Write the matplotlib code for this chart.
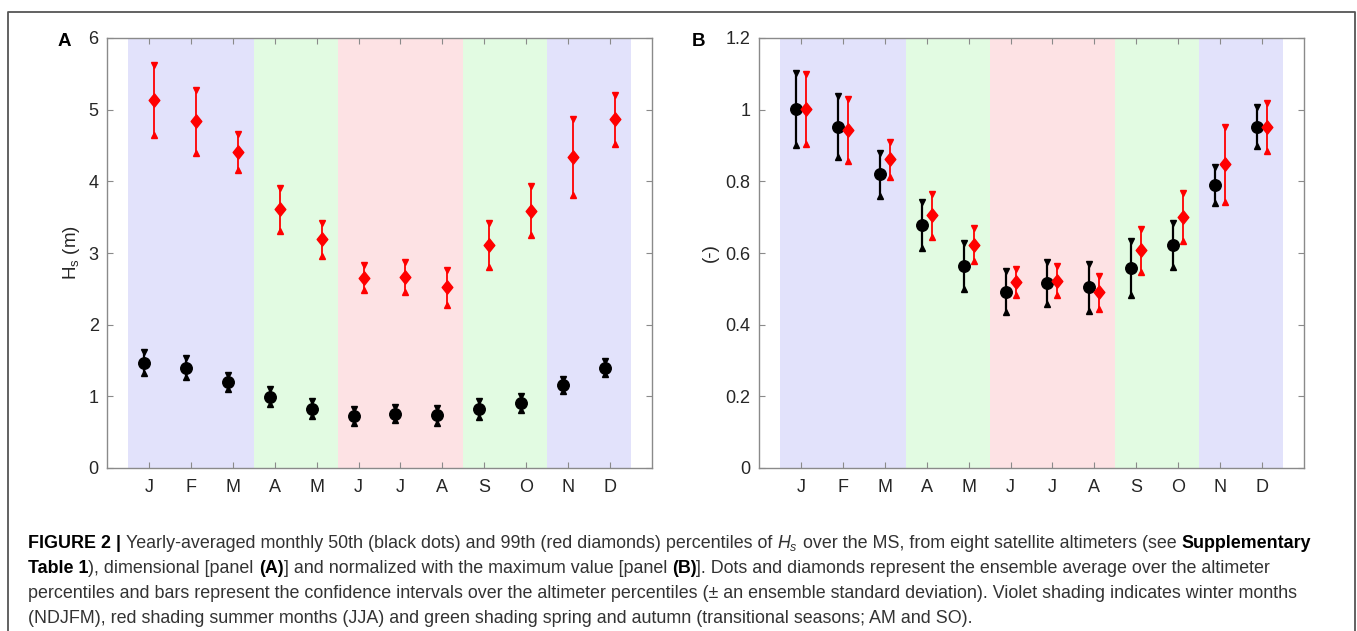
import matplotlib
matplotlib.use("Agg")
import matplotlib.pyplot as plt
from matplotlib.path import Path
import numpy as np

plt.rcParams['font.family'] = ['Liberation Sans', 'DejaVu Sans']
plt.rcParams['mathtext.fontset'] = 'custom'
plt.rcParams['mathtext.rm'] = 'Liberation Sans'
plt.rcParams['mathtext.it'] = 'Liberation Sans:italic'
plt.rcParams['mathtext.bf'] = 'Liberation Sans:bold'

months = ['J', 'F', 'M', 'A', 'M', 'J', 'J', 'A', 'S', 'O', 'N', 'D']

# Panel A: dimensional Hs (m)
a_p50 = [1.47, 1.40, 1.20, 0.995, 0.83, 0.725, 0.76, 0.735, 0.82, 0.91, 1.16, 1.40]
a_p50_err = [0.15, 0.13, 0.10, 0.105, 0.105, 0.095, 0.095, 0.105, 0.115, 0.10, 0.085, 0.09]
a_p99 = [5.13, 4.84, 4.41, 3.61, 3.19, 2.655, 2.67, 2.52, 3.11, 3.59, 4.34, 4.865]
a_p99_err = [0.49, 0.44, 0.25, 0.30, 0.235, 0.175, 0.21, 0.24, 0.31, 0.345, 0.53, 0.345]

# Panel B: normalized (-)
b_p50 = [1.002, 0.953, 0.82, 0.678, 0.563, 0.492, 0.517, 0.504, 0.558, 0.622, 0.79, 0.953]
b_p50_err = [0.10, 0.084, 0.06, 0.064, 0.064, 0.057, 0.058, 0.066, 0.076, 0.062, 0.05, 0.055]
b_p99 = [1.001, 0.944, 0.861, 0.706, 0.623, 0.519, 0.523, 0.491, 0.607, 0.701, 0.848, 0.951]
b_p99_err = [0.098, 0.086, 0.048, 0.06, 0.046, 0.036, 0.041, 0.046, 0.061, 0.067, 0.105, 0.067]

# Season shading spans (month index ranges)
season_spans = [(0.5, 3.5, 'winter'), (3.5, 5.5, 'trans'), (5.5, 8.5, 'summer'),
                (8.5, 10.5, 'trans'), (10.5, 12.5, 'winter')]
season_colors = {'winter': '#e2e2fb', 'trans': '#e2fbe2', 'summer': '#fde2e4'}

W, H = 1357, 631
fig = plt.figure(figsize=(W / 100, H / 100), dpi=100)

# outer frame
fig.add_artist(plt.Line2D([8 / W, 8 / W, 1355 / W, 1355 / W], [0, 1 - 12 / H, 1 - 12 / H, 0],
                          transform=fig.transFigure, color='#555555', lw=1.3))

diamond = Path([(0, 1), (0.8, 0), (0, -1), (-0.8, 0), (0, 1)],
               [Path.MOVETO, Path.LINETO, Path.LINETO, Path.LINETO, Path.CLOSEPOLY])

x = np.arange(1, 13)
spine_col = '#8a8a8a'
txt_col = '#262626'


def make_panel(left_px, p50, p50e, p99, p99e, ylim, yticks, yticklabels, ylabel, letter, letter_x):
    ax = fig.add_axes([left_px / W, (H - 468) / H, 545 / W, 430 / H])
    for a, b, s in season_spans:
        ax.axvspan(a, b, color=season_colors[s], lw=0, zorder=0)
    off = 0.12
    for xs, v, e, col, mk, ms, lw in [(x - off, p50, p50e, 'black', 'o', 8.3, 1.6),
                                     (x + off, p99, p99e, '#ff0000', diamond, 9.6, 1.3)]:
        v = np.array(v)
        e = np.array(e)
        ax.vlines(xs, v - e, v + e, color=col, lw=lw, zorder=3)
        ax.plot(xs, v + e, 'v', color=col, ms=4.3, zorder=3)
        ax.plot(xs, v - e, '^', color=col, ms=4.3, zorder=3)
        ax.plot(xs, v, ls='none', marker=mk, ms=ms, color=col, mec=col, zorder=4)
    ax.set_xlim(0, 13)
    ax.set_ylim(*ylim)
    ax.set_xticks(x)
    ax.set_xticklabels(months)
    ax.set_yticks(yticks)
    ax.set_yticklabels(yticklabels)
    ax.tick_params(direction='in', length=4.5, width=0.8, color=spine_col, labelcolor=txt_col,
                   labelsize=13, top=True, right=True, pad=6)
    ax.tick_params(axis='x', pad=8)
    for sp in ax.spines.values():
        sp.set_color(spine_col)
        sp.set_linewidth(1.0)
    ax.set_ylabel(ylabel, fontsize=13.5, color=txt_col, labelpad=5)
    fig.text(letter_x / W, 1 - 41 / H, letter, fontsize=13.5, fontweight='bold',
             ha='left', va='center', color='black')
    return ax


axA = make_panel(107, a_p50, a_p50_err, a_p99, a_p99_err, (0, 6), range(0, 7),
                 [str(i) for i in range(0, 7)], r'H$_\mathregular{s}$ (m)', 'A', 58)
axB = make_panel(759, b_p50, b_p50_err, b_p99, b_p99_err, (0, 1.2),
                 [0, 0.2, 0.4, 0.6, 0.8, 1.0, 1.2], ['0', '0.2', '0.4', '0.6', '0.8', '1', '1.2'],
                 '(-)', 'B', 692)

# caption
cap_lines = [
    [("FIGURE 2 | ", 'bold'),
     ("Yearly-averaged monthly 50th (black dots) and 99th (red diamonds) percentiles of ", 'normal'),
     ("$H_s$", 'normal'),
     (" over the MS, from eight satellite altimeters (see ", 'normal'),
     ("Supplementary", 'bold')],
    [("Table 1", 'bold'), ("), dimensional [panel ", 'normal'), ("(A)", 'bold'),
     ("] and normalized with the maximum value [panel ", 'normal'), ("(B)", 'bold'),
     ("]. Dots and diamonds represent the ensemble average over the altimeter", 'normal')],
    [("percentiles and bars represent the confidence intervals over the altimeter percentiles "
      "(\u00b1 an ensemble standard deviation). Violet shading indicates winter months", 'normal')],
    [("(NDJFM), red shading summer months (JJA) and green shading spring and autumn "
      "(transitional seasons; AM and SO).", 'normal')],
]
cap_x0 = 28
cap_base = [548, 573, 598, 623]
cap_size = 12.9
renderer = fig.canvas.get_renderer()
for line, yb in zip(cap_lines, cap_base):
    xp = cap_x0
    for txt, wt in line:
        col = 'black' if wt == 'bold' else '#333333'
        t = fig.text(xp / W, 1 - yb / H, txt, fontsize=cap_size, fontweight=wt, color=col,
                     ha='left', va='baseline')
        bb = t.get_window_extent(renderer)
        xp += bb.width

fig.savefig('out.png', dpi=100)
